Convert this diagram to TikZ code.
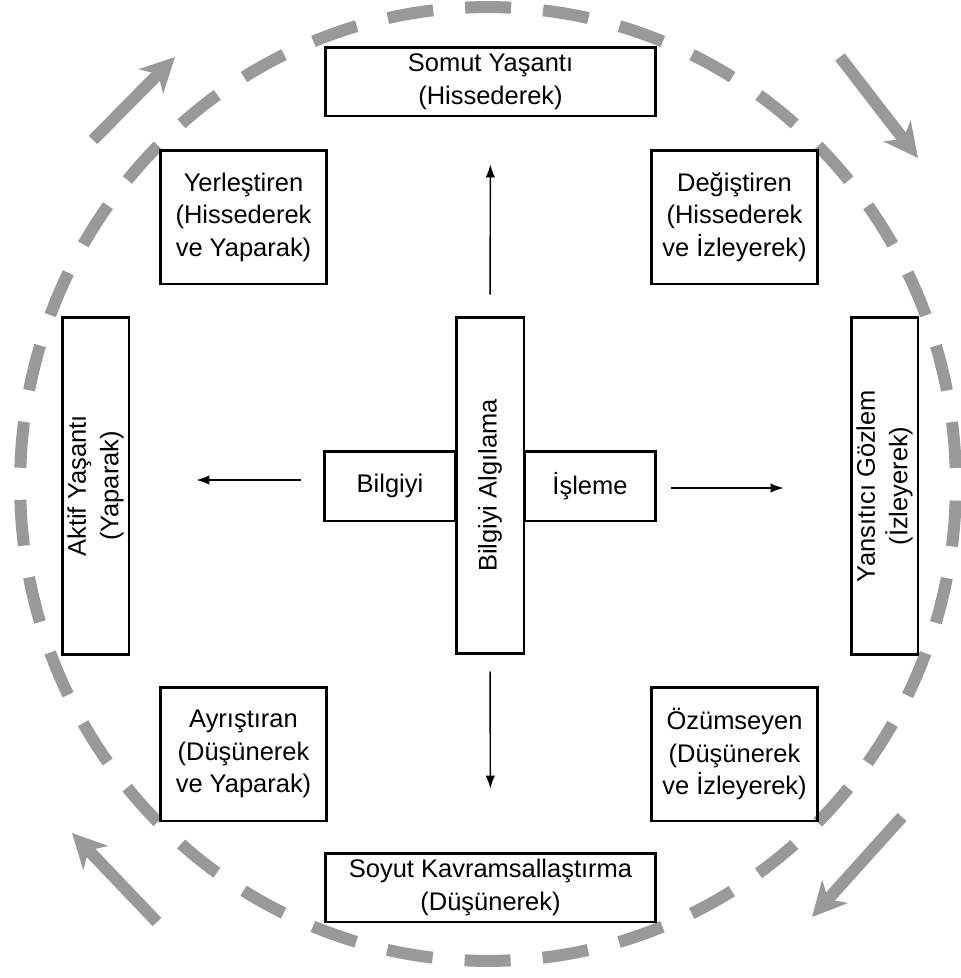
\documentclass[tikz,border=0pt]{standalone}
\usepackage{fontspec}
\setmainfont{Liberation Sans}
\usetikzlibrary{arrows.meta,positioning}
\definecolor{cyclegray}{RGB}{153,153,153}
\tikzset{
    basic/.style = {draw, line width=1.7pt, rectangle, align=center, inner sep=0pt, font=\fontsize{14.5}{18.5}\selectfont},
    stage box/.style = {basic, minimum width=6.62cm, minimum height=1.38cm},
    style box/.style = {basic, minimum width=3.34cm, minimum height=2.68cm},
    side box/.style = {basic, rotate=90, minimum width=6.76cm, minimum height=1.34cm},
    core box/.style = {basic, minimum width=2.64cm, minimum height=1.4cm},
    flow arrow/.style = {-{Latex[length=0.26cm,width=0.19cm]}, line width=0.8pt},
    cycle arrow/.style = {-{Stealth[length=0.68cm,width=0.68cm,inset=0.2cm]}, cyclegray, line width=0.24cm}
}

\begin{document}
\begin{tikzpicture}[x=0.02cm, y=-0.02cm]
	\useasboundingbox (0,0) rectangle (961,978);
	\draw[cyclegray, line width=0.24cm, dash pattern=on 0.92cm off 0.6425cm, dash phase=1.241cm]
		(488,484) ellipse [x radius=9.36cm, y radius=9.54cm];

	\node[stage box] (somut) at (490.5,81.5) {Somut Yaşantı\\(Hissederek)};
	\node[stage box] (soyut) at (490.5,887.5) {Soyut Kavramsallaştırma\\(Düşünerek)};
	\node[side box] (aktif) at (95.5,486) {Aktif Yaşantı\\(Yaparak)};
	\node[side box] (yansit) at (884.5,486) {Yansıtıcı Gözlem\\(İzleyerek)};
	\node[style box] (yerles) at (243.5,217) {Yerleştiren\\(Hissederek\\ve Yaparak)};
	\node[style box] (degis) at (734.5,217) {Değiştiren\\(Hissederek\\ve İzleyerek)};
	\node[style box] (ayris) at (243.5,754) {Ayrıştıran\\(Düşünerek\\ve Yaparak)};
	\node[style box] (ozum) at (734.5,754) {Özümseyen\\(Düşünerek\\ve İzleyerek)};

	\node[core box] (bilgi) at (390,486) {Bilgiyi};
	\node[core box] (isleme) at (590,486) {İşleme};
	\node[side box, minimum width=6.74cm, minimum height=1.36cm] (algi) at (490,485.5) {Bilgiyi Algılama};

	\draw[flow arrow, shorten <=0.42cm, shorten >=0.94cm] (algi.east) -- (somut.south);
	\draw[flow arrow, shorten <=0.32cm, shorten >=1.26cm] (algi.west) -- (soyut.north);
	\draw[flow arrow, shorten <=0.44cm, shorten >=1.32cm] ([yshift=0.12cm]bilgi.west) -- ([yshift=0.12cm]aktif.south);
	\draw[flow arrow, shorten <=0.28cm, shorten >=1.32cm] ([yshift=-0.04cm]isleme.east) -- ([yshift=-0.04cm]yansit.north);

	\coordinate (c1 start) at (93,140);
	\coordinate (c1 end) at (175,57);
	\coordinate (c2 start) at (840,57);
	\coordinate (c2 end) at (918,158);
	\coordinate (c3 start) at (902,817);
	\coordinate (c3 end) at (812,917);
	\coordinate (c4 start) at (157,922);
	\coordinate (c4 end) at (72,833);
	\foreach \i in {1,...,4}
		\draw[cycle arrow] (c\i\space start) -- (c\i\space end);
\end{tikzpicture}
\end{document}
